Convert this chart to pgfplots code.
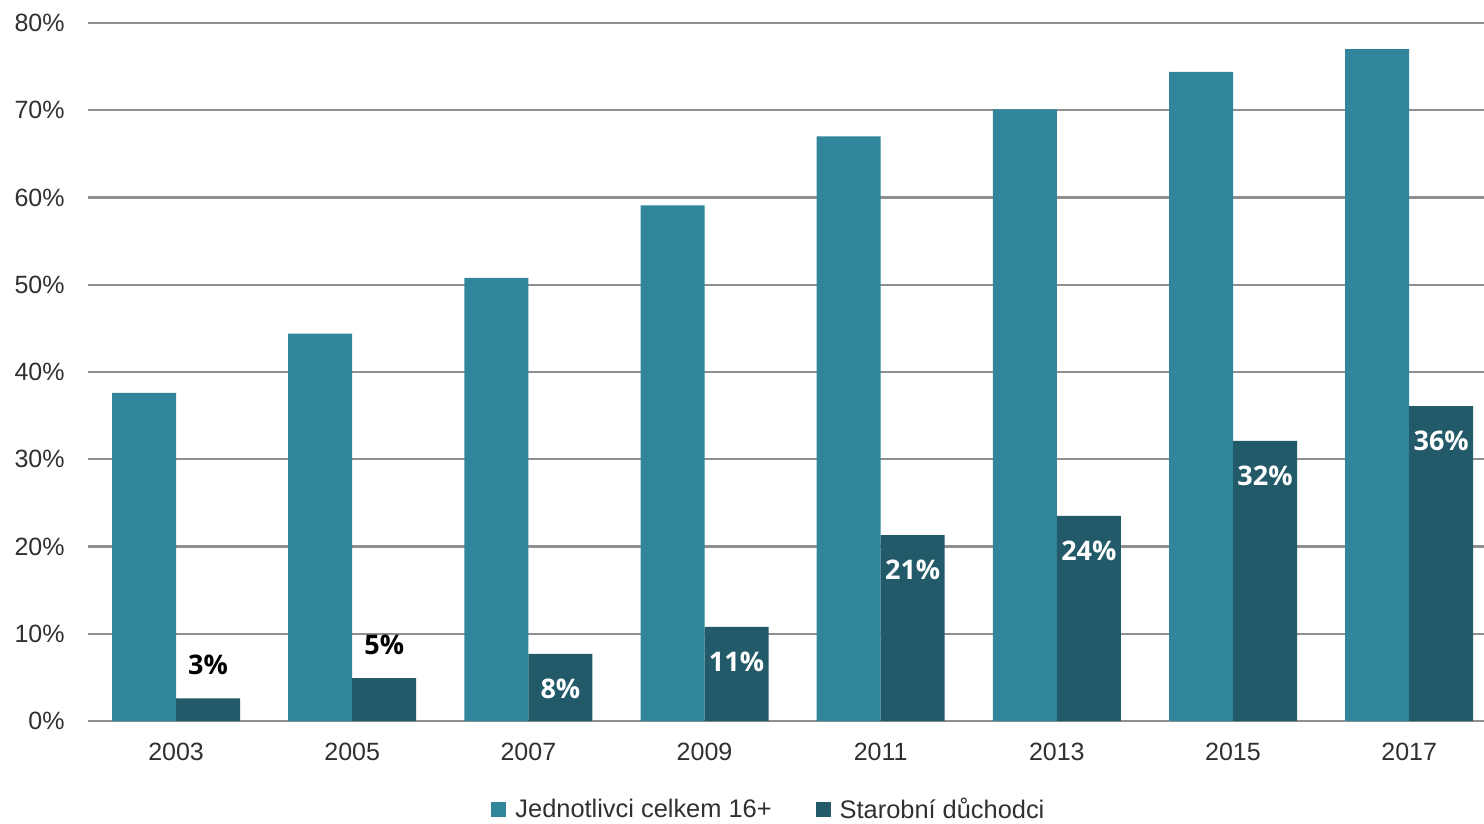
\documentclass[border=0pt]{standalone}
\usepackage{pgfplots}
\pgfplotsset{compat=1.18}
\usepackage{fontspec}
\setmainfont{Liberation Sans}
\newfontfamily\lblfont{Open Sans}
\definecolor{cA}{HTML}{31869C}
\definecolor{cB}{HTML}{225A69}
\definecolor{gridc}{HTML}{8F8F8F}
\definecolor{txt}{HTML}{303030}
\begin{document}
\begin{tikzpicture}
\useasboundingbox (-44bp,-51.5bp) rectangle (698bp,360.5bp);
\begin{axis}[
  at={(0,0)}, anchor=south west,
  scale only axis, width=698bp, height=349bp,
  xmin=-0.5, xmax=7.425, ymin=0, ymax=80,
  clip=false,
  axis line style={draw=none},
  ymajorgrids, grid style={gridc, line width=1.1bp},
  major tick length=0pt,
  ytick={0,10,...,80},
  yticklabel={\pgfmathprintnumber{\tick}\%},
  /pgf/number format/assume math mode=true,
  yticklabel style={font=\fontsize{12.5bp}{14bp}\selectfont, text=txt, anchor=east, inner sep=0pt, xshift=-11.5bp},
  xtick={0,...,7},
  xticklabels={2003,2005,2007,2009,2011,2013,2015,2017},
  xticklabel style={font=\fontsize{12.5bp}{14bp}\selectfont, text=txt, anchor=north, inner sep=0pt, yshift=-11bp},
  ybar=0pt, bar width=32bp,
  legend columns=2,
  legend style={at={(0.4885,-0.1275)}, anchor=center, draw=none, fill=none,
    font=\fontsize{12.7bp}{14bp}\selectfont, text=txt,
    /tikz/every even column/.append style={column sep=20bp}},
  legend image code/.code={\fill[#1, draw=none] (0bp,-3.75bp) rectangle (7.5bp,3.75bp); \path (10bp,0bp);},
]
\addplot[fill=cA, draw=none, bar shift=-16bp] coordinates {
(0,37.6) (1,44.4) (2,50.8) (3,59.1) (4,67.0) (5,70.1) (6,74.4) (7,77.0)};
\addlegendentry{Jednotlivci celkem 16+}
\addplot[fill=cB, draw=none, bar shift=16bp] coordinates {
(0,2.6) (1,4.9) (2,7.7) (3,10.8) (4,21.3) (5,23.5) (6,32.1) (7,36.1)};
\addlegendentry{Starobní důchodci}
% labels above bars
\addplot[draw=none, fill=none, bar shift=16bp, forget plot,
  point meta=explicit symbolic, nodes near coords,
  every node near coord/.append style={anchor=center, yshift=16.5bp, inner sep=0pt,
    font=\lblfont\bfseries\fontsize{13.5bp}{16bp}\selectfont, text=black}]
  coordinates {(0,2.6) [3\%] (1,4.9) [5\%]};
% labels inside bars
\addplot[draw=none, fill=none, bar shift=16bp, forget plot,
  point meta=explicit symbolic, nodes near coords,
  every node near coord/.append style={anchor=center, yshift=-17.5bp, inner sep=0pt,
    font=\lblfont\bfseries\fontsize{13.5bp}{16bp}\selectfont, text=white}]
  coordinates {(2,7.7) [8\%] (3,10.8) [11\%] (4,21.3) [21\%] (5,23.5) [24\%] (6,32.1) [32\%] (7,36.1) [36\%]};
\end{axis}
\end{tikzpicture}
\end{document}
